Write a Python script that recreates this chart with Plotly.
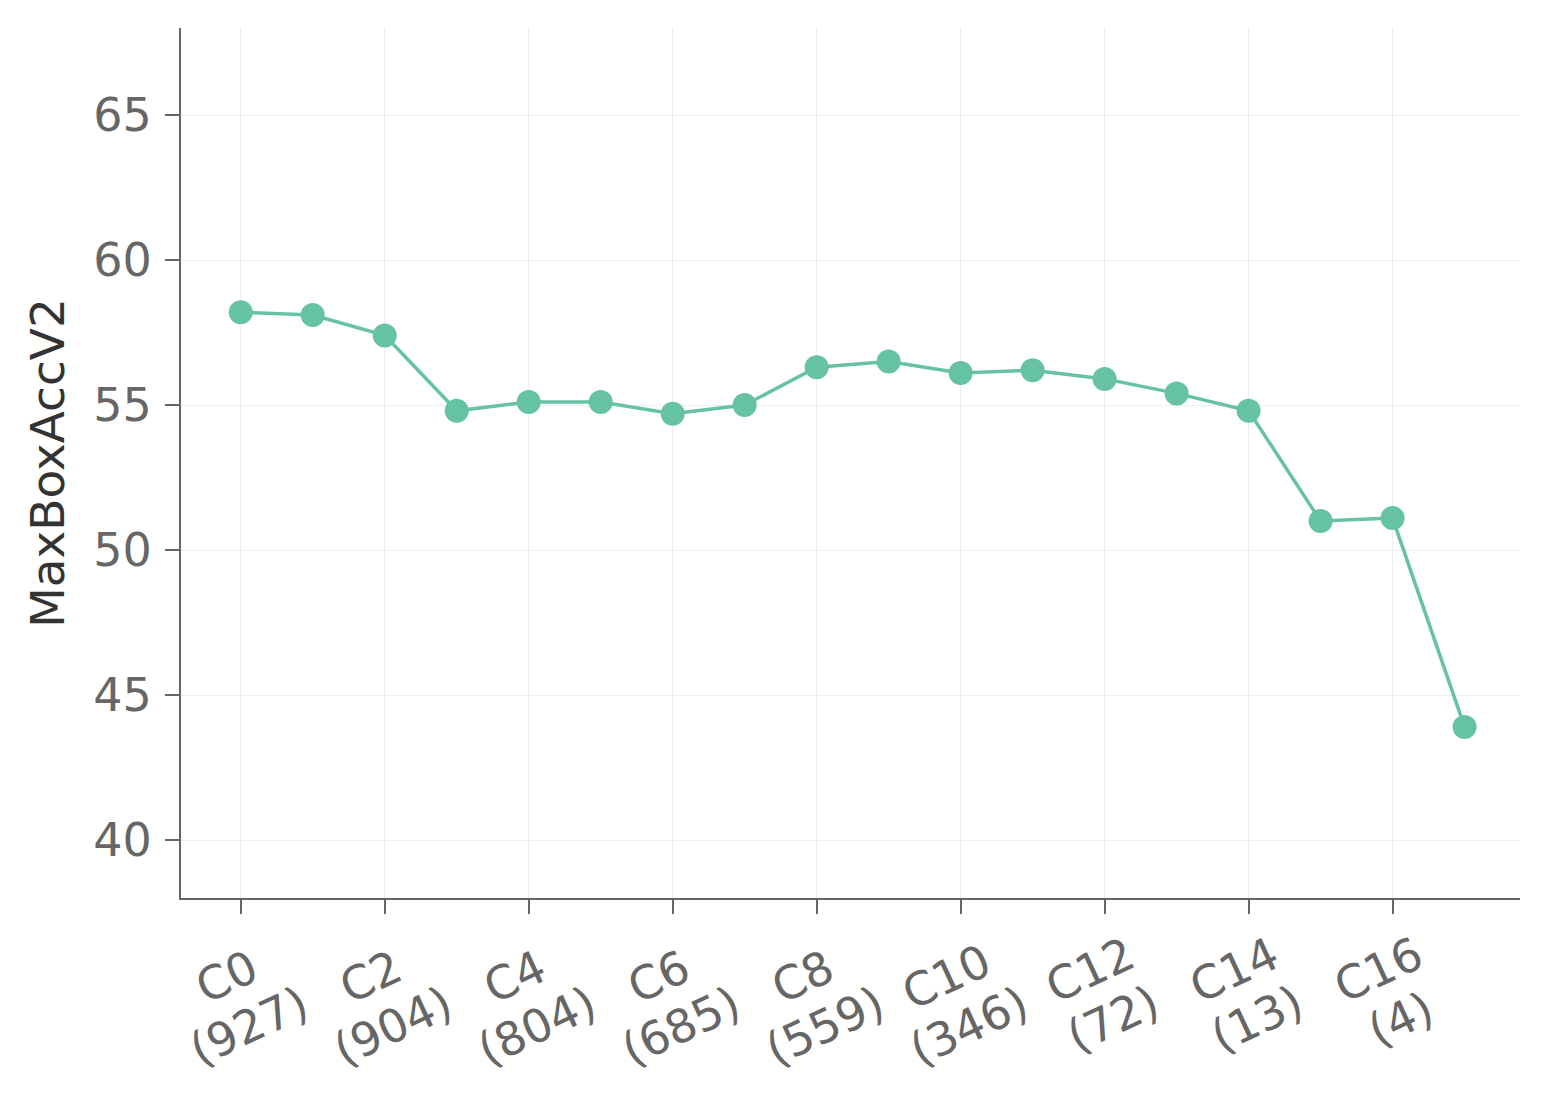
import math
import plotly.graph_objects as go

categories = [f"C{i}" for i in range(18)]
values = [58.2, 58.1, 57.4, 54.8, 55.1, 55.1, 54.7, 55.0, 56.3, 56.5,
          56.1, 56.2, 55.9, 55.4, 54.8, 51.0, 51.1, 43.9]
tick_positions = [0, 2, 4, 6, 8, 10, 12, 14, 16]
tick_names = ["C0", "C2", "C4", "C6", "C8", "C10", "C12", "C14", "C16"]
tick_counts = ["(927)", "(904)", "(804)", "(685)", "(559)", "(346)", "(72)", "(13)", "(4)"]
y_ticks = [40, 45, 50, 55, 60, 65]

xs = list(range(len(categories)))

axis_color = "#666666"
font_family = "DejaVu Sans"
XFONT = 46
ANGLE = 25

fig = go.Figure()
fig.add_trace(go.Scatter(
    x=xs, y=values, mode="lines+markers",
    line=dict(color="#66c2a5", width=3.5),
    marker=dict(color="#66c2a5", size=24),
    text=categories, hoverinfo="text+y",
))

# Rotated two-line tick labels, centred line by line (matplotlib style)
_adv = {"C": 0.698, "(": 0.390, ")": 0.390}
def _width(s):
    return sum(_adv.get(ch, 0.636) for ch in s) * XFONT

s, c = math.sin(math.radians(ANGLE)), math.cos(math.radians(ANGLE))
half_gap = 27.0
for pos, name, cnt in zip(tick_positions, tick_names, tick_counts):
    W = max(_width(name), _width(cnt))
    cy = 77.0 + W / 2 * s
    cx = -3.0
    for txt, sign in ((name, -1), (cnt, 1)):
        fig.add_annotation(
            x=pos, y=0, xref="x", yref="paper",
            text=txt, showarrow=False, textangle=-ANGLE,
            xanchor="center", yanchor="middle",
            xshift=cx + sign * half_gap * s,
            yshift=-(cy + sign * half_gap * c),
            font=dict(family=font_family, size=XFONT, color=axis_color),
        )

fig.update_layout(
    width=1548, height=1101,
    margin=dict(l=173, r=36, t=20, b=211),
    paper_bgcolor="white", plot_bgcolor="white",
    showlegend=False,
    font=dict(family=font_family, size=44, color=axis_color),
)
fig.update_xaxes(
    range=[-0.83, 17.77],
    tickmode="array", tickvals=tick_positions, ticktext=tick_names,
    showticklabels=False,
    showgrid=True, gridcolor="#eeeeee", gridwidth=1,
    showline=True, linecolor=axis_color, linewidth=2,
    ticks="outside", ticklen=14, tickwidth=2, tickcolor=axis_color,
    zeroline=False,
)
fig.update_yaxes(
    range=[38, 68],
    tickmode="array", tickvals=y_ticks,
    showgrid=True, gridcolor="#eeeeee", gridwidth=1,
    showline=True, linecolor=axis_color, linewidth=2,
    ticks="outside", ticklen=14, tickwidth=2, tickcolor=axis_color,
    tickfont=dict(size=46, color=axis_color),
    ticklabelstandoff=4,
    title=dict(text="MaxBoxAccV2", font=dict(size=47, color="#333333"), standoff=14),
    zeroline=False,
)

fig.write_html("out.html")
